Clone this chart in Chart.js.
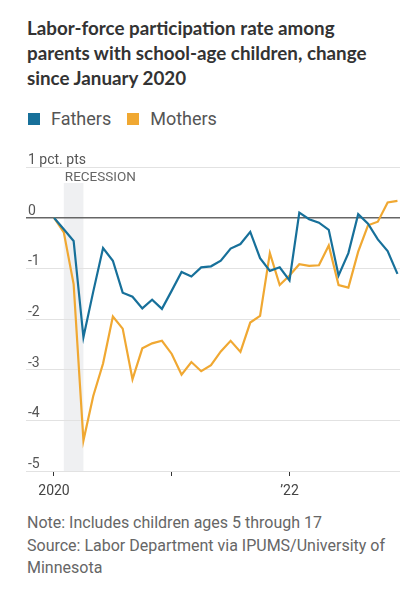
<!DOCTYPE html>
<html lang="en">

<head>
    <meta charset="UTF-8">
    <title>Labor-force participation</title>
    <style>
        body { margin: 0; width: 416px; height: 591px; background: #fff; position: relative; overflow: hidden; font-family: Roboto, sans-serif; }
        .title { position: absolute; left: 27px; top: 15px; font-family: Lato, sans-serif; font-weight: 700; font-size: 18.8px; line-height: 25px; color: #333; }
        .legend { position: absolute; left: 28px; top: 108px; font-size: 18px; color: #555; display: flex; align-items: center; }
        .legend span.sw { display: inline-block; width: 12px; height: 12px; margin-right: 11px; }
        .legend span.lbl { margin-right: 16px; }
        .chart-wrap { position: absolute; left: 0; top: 140px; width: 416px; height: 372px; }
        .note { position: absolute; left: 27px; top: 512px; font-size: 16px; line-height: 22.5px; color: #666; }
    </style>
</head>

<body>
    <div class="title">Labor-force participation rate among<br>parents with school-age children, change<br>since January 2020</div>
    <div class="legend" id="legend"></div>
    <div class="chart-wrap"><canvas id="myChart" width="416" height="372"></canvas></div>
    <div class="note">Note: Includes children ages 5 through 17<br>Source: Labor Department via IPUMS/University of<br>Minnesota</div>

    <script src="https://cdn.jsdelivr.net/npm/chart.js"></script>
    <script>
        // monthly, Jan 2020 .. Dec 2022 (index 0..35)
        const months = ['2020-01','2020-02','2020-03','2020-04','2020-05','2020-06','2020-07','2020-08','2020-09','2020-10','2020-11','2020-12',
            '2021-01','2021-02','2021-03','2021-04','2021-05','2021-06','2021-07','2021-08','2021-09','2021-10','2021-11','2021-12',
            '2022-01','2022-02','2022-03','2022-04','2022-05','2022-06','2022-07','2022-08','2022-09','2022-10','2022-11','2022-12'];

        const fathers = [0, -0.23, -0.46, -2.36, -1.46, -0.6, -0.85, -1.48, -1.56, -1.79, -1.62, -1.8,
            -1.44, -1.07, -1.16, -0.98, -0.96, -0.85, -0.61, -0.52, -0.28, -0.8, -1.05, -0.98,
            -1.24, 0.1, -0.03, -0.1, -0.24, -1.14, -0.7, 0.07, -0.12, -0.43, -0.66, -1.11];

        const mothers = [0, -0.29, -1.31, -4.4, -3.52, -2.88, -1.95, -2.19, -3.19, -2.58, -2.48, -2.43,
            -2.69, -3.1, -2.85, -3.03, -2.91, -2.64, -2.43, -2.65, -2.07, -1.94, -0.7, -1.33,
            -1.14, -0.92, -0.95, -0.94, -0.55, -1.33, -1.38, -0.67, -0.15, -0.08, 0.3, 0.33];

        const seriesNames = ['Fathers', 'Mothers'];
        const seriesColors = ['#17709a', '#f0a832'];

        const yTicks = [1, 0, -1, -2, -3, -4, -5];
        const yTickLabels = ['1 pct. pts', '0', '-1', '-2', '-3', '-4', '-5'];
        const xTicks = [0, 12, 24];
        const xTickLabels = ['2020', '', '\u201922'];

        const recession = [1, 3];  // Feb - Apr 2020
        const recessionLabel = 'RECESSION';

        // legend
        const legend = document.getElementById('legend');
        seriesNames.forEach((name, i) => {
            legend.innerHTML += '<span class="sw" style="background:' + seriesColors[i] + '"></span><span class="lbl">' + name + '</span>';
        });

        Chart.defaults.font.family = 'Roboto';
        Chart.defaults.color = '#555';

        const extras = {
            id: 'extras',
            beforeDraw(chart) {
                const c = chart.ctx, a = chart.chartArea, x = chart.scales.x;
                const x0 = x.getPixelForValue(recession[0]), x1 = x.getPixelForValue(recession[1]);
                c.save();
                c.fillStyle = '#eff0f2';
                c.fillRect(x0, a.top + 16, x1 - x0, a.bottom - a.top - 16);
                c.fillStyle = '#666';
                c.font = '13.5px Roboto';
                c.textBaseline = 'middle';
                c.fillText(recessionLabel, x0 + 1, a.top + 11);
                c.restore();
            },
            afterDraw(chart) {
                const c = chart.ctx, a = chart.chartArea, y = chart.scales.y;
                c.save();
                c.fillStyle = '#555';
                c.font = '14px Roboto';
                c.textBaseline = 'alphabetic';
                yTicks.forEach((v, i) => {
                    c.fillText(yTickLabels[i], a.left + 2, y.getPixelForValue(v) - 3);
                });
                c.restore();
            }
        };

        new Chart(document.getElementById('myChart'), {
            type: 'line',
            data: {
                datasets: [fathers, mothers].map((s, i) => ({
                    label: seriesNames[i],
                    data: s.map((v, j) => ({ x: j, y: v })),
                    borderColor: seriesColors[i],
                    borderWidth: 2.2,
                    pointRadius: 0,
                    tension: 0,
                    fill: false
                }))
            },
            options: {
                responsive: false,
                animation: false,
                layout: { padding: { top: 27, left: 26, right: 16, bottom: 0 } },
                plugins: { legend: { display: false }, tooltip: { enabled: false } },
                scales: {
                    x: {
                        type: 'linear',
                        min: -2.853,
                        max: 35.26,
                        afterBuildTicks: s => { s.ticks = xTicks.map(v => ({ value: v })); },
                        afterFit: s => { s.height = 41; },
                        grid: { drawOnChartArea: false, drawTicks: true, tickLength: 5, tickColor: '#333' },
                        border: { display: false },
                        ticks: {
                            autoSkip: false,
                            maxRotation: 0,
                            padding: 7,
                            color: '#444',
                            font: { size: 14 },
                            callback: v => xTickLabels[xTicks.indexOf(v)]
                        }
                    },
                    y: {
                        min: -5,
                        max: 1,
                        afterBuildTicks: s => { s.ticks = yTicks.map(v => ({ value: v })); },
                        afterFit: s => { s.width = 0; },
                        border: { display: false },
                        grid: {
                            drawTicks: false,
                            color: c => c.tick.value === 0 ? '#666' : '#e2e2e2',
                            lineWidth: c => c.tick.value === 0 ? 1.6 : 1
                        },
                        ticks: { display: false }
                    }
                }
            },
            plugins: [extras]
        });
    </script>
</body>

</html>
